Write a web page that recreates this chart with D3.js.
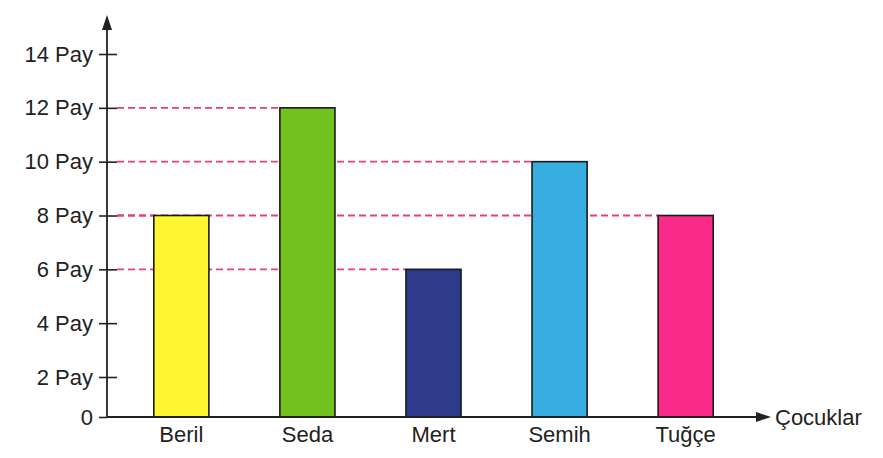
<!DOCTYPE html>
<html><head><meta charset="utf-8">
<script src="https://cdn.jsdelivr.net/npm/d3@7"></script>
<style>body{margin:0;background:#fff}svg{display:block}text{font-family:"Liberation Sans",Arial,sans-serif;fill:#222}</style>
</head><body><svg id="c" width="883" height="458"></svg>
<script>
const categories = ["Beril","Seda","Mert","Semih","Tuğçe"];
const values = [8,12,6,10,8];
const colors = ["#fff530","#71c11f","#2e3a8a","#38aee0","#fa2b88"];
const tickValues = [0,2,4,6,8,10,12,14];
const tickLabels = ["0","2 Pay","4 Pay","6 Pay","8 Pay","10 Pay","12 Pay","14 Pay"];
const xTitle = "Çocuklar";

const svg = d3.select("#c");
const axisX = 107, baseY = 417;
const y = d3.scaleLinear().domain([0,2,14]).range([baseY,377,54]);
const x = d3.scaleBand().domain(categories).range([118.5,748.5]).paddingInner(0.563).paddingOuter(0.28);

// dashed guide lines
svg.append("g").selectAll("line").data(categories).join("line")
  .attr("x1", axisX+10).attr("x2", d=>x(d))
  .attr("y1", (d,i)=>y(values[i])).attr("y2",(d,i)=>y(values[i]))
  .attr("stroke","#e2407f").attr("stroke-width",1.8).attr("stroke-dasharray","7,4");

// bars
svg.append("g").selectAll("rect").data(categories).join("rect")
  .attr("x", d=>x(d)).attr("width", x.bandwidth())
  .attr("y",(d,i)=>y(values[i])).attr("height",(d,i)=>baseY-y(values[i]))
  .attr("fill",(d,i)=>colors[i]).attr("stroke","#1a1a1a").attr("stroke-width",1.6);

// y axis
const ya = d3.axisLeft(y).tickValues(tickValues).tickFormat((d,i)=>tickLabels[i]).tickSize(0).tickPadding(14);
const gy = svg.append("g").attr("transform",`translate(${axisX},0)`).call(ya);
gy.select(".domain").remove();
gy.selectAll("text").style("font-size","22px").attr("fill","#222").attr("font-family","Liberation Sans, Arial, sans-serif");
gy.selectAll(".tick").append("line").attr("x1",-8).attr("x2",d=>d===0?0:10).attr("stroke","#222").attr("stroke-width",1.6);

// axis lines with arrows
svg.append("line").attr("x1",axisX).attr("x2",axisX).attr("y1",baseY).attr("y2",28).attr("stroke","#222").attr("stroke-width",1.8);
svg.append("path").attr("d",`M${axisX},15 L${axisX-5},30 L${axisX+5},30 Z`).attr("fill","#222");
svg.append("line").attr("x1",axisX).attr("x2",760).attr("y1",baseY).attr("y2",baseY).attr("stroke","#222").attr("stroke-width",1.8);
svg.append("path").attr("d",`M771,${baseY} L756,${baseY-5} L756,${baseY+5} Z`).attr("fill","#222");

// x labels
const xa = d3.axisBottom(x).tickSize(0).tickPadding(9);
const gx = svg.append("g").attr("transform",`translate(0,${baseY})`).call(xa);
gx.select(".domain").remove();
gx.selectAll("text").style("font-size","22px").attr("fill","#222").attr("font-family","Liberation Sans, Arial, sans-serif");

svg.append("text").attr("x",775).attr("y",baseY).attr("dy","0.35em").style("font-size","22px").text(xTitle);
</script></body></html>
